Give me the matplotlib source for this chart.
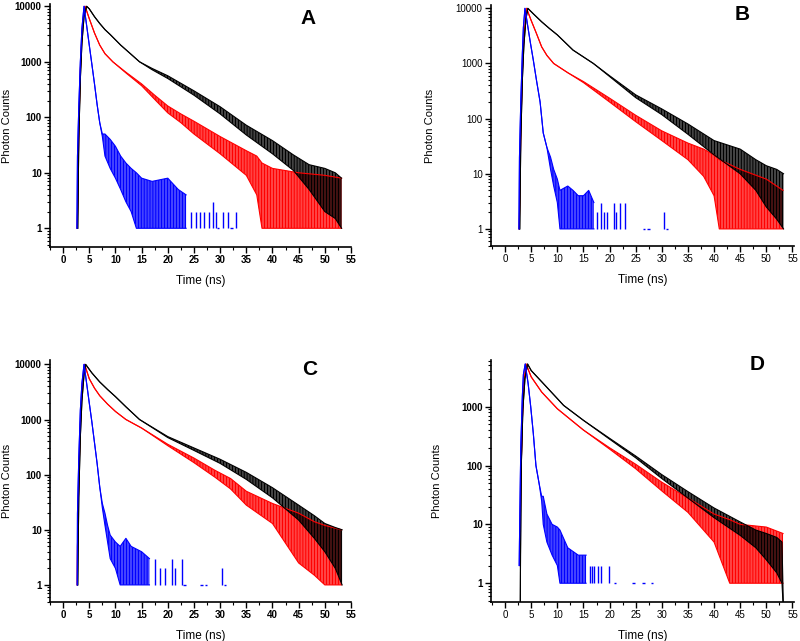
import numpy as np
import matplotlib.pyplot as plt
from matplotlib.ticker import FixedLocator, MultipleLocator, NullFormatter

plt.rcParams['font.family'] = ['Liberation Sans', 'DejaVu Sans']
plt.rcParams['hatch.linewidth'] = 0.9

# ---- values: time (ns), lower / upper edge of the trace (counts)
# panel A
a_blk_t  = [2.8, 3.0, 3.3, 3.6, 4.0, 4.5, 5.0, 6.0, 7, 8, 9, 11, 12.5, 14.6, 17, 20, 25, 30, 35, 40, 44, 47, 50, 52, 53.2]
a_blk_lo = [1, 40, 500, 2200, 6500, 10000, 9000, 6500, 4900, 3800, 3100, 2000, 1500, 1000, 720, 500, 250, 115, 48, 22, 11, 5, 2, 1.5, 1]
a_blk_hi = [1, 40, 500, 2200, 6500, 10000, 9000, 6500, 4900, 3800, 3100, 2000, 1500, 1000, 760, 560, 300, 155, 72, 38, 21, 14, 12, 10, 8]
a_red_t  = [2.7, 2.8, 3.0, 3.3, 3.6, 4.0, 4.2, 5, 6, 7, 8, 9.5, 12, 15, 17.5, 20, 22.5, 25, 30, 35, 37, 38, 40, 45, 50, 53.2]
a_red_lo = [1, 3, 60, 700, 3000, 8500, 10000, 6000, 3300, 2000, 1400, 1000, 630, 370, 210, 120, 80, 50, 22, 9, 4, 1, 1, 1, 1, 1]
a_red_hi = [1, 3, 60, 700, 3000, 8500, 10000, 6000, 3300, 2000, 1400, 1000, 650, 400, 250, 160, 115, 85, 45, 25, 20, 15, 12, 10, 9, 8]
a_blu_t  = [2.65, 2.75, 3.0, 3.3, 3.6, 4.0, 4.5, 5, 5.5, 6, 6.5, 7, 7.5, 8, 9, 10, 11, 12, 13, 14, 15, 17, 20, 22, 23.5]
a_blu_lo = [1, 20, 150, 1000, 4000, 10000, 4500, 2000, 900, 400, 170, 80, 45, 20, 12, 8, 5, 3, 2, 1, 1, 1, 1, 1, 1]
a_blu_hi = [1, 20, 150, 1000, 4000, 10000, 4500, 2000, 900, 400, 170, 80, 50, 50, 40, 30, 20, 15, 12, 10, 8, 7, 8, 5, 4]
a_spk_t  = [24.5, 25.4, 26.2, 27.0, 27.8, 28.6, 29.3, 30.5, 31.5, 33.0]
a_spk_v  = [2, 2, 2, 2, 2, 3, 2, 2, 2, 2]
a_dash_t = [29.6, 32.2]

# panel B
b_blk_t  = [2.8, 3.0, 3.3, 3.6, 4.0, 4.35, 5.5, 7, 8.5, 10, 13, 16.9, 20, 25, 30, 35, 40, 45, 48, 50, 52, 53.3]
b_blk_lo = [1, 40, 500, 2200, 6500, 10000, 7800, 5700, 4300, 3300, 1750, 1000, 580, 240, 118, 52, 22, 10, 5, 2.5, 1.5, 1]
b_blk_hi = [1, 40, 500, 2200, 6500, 10000, 7800, 5700, 4300, 3300, 1750, 1000, 600, 270, 150, 80, 40, 28, 18, 14, 12, 10]
b_red_t  = [2.7, 2.8, 3.0, 3.3, 3.6, 4.1, 5, 6, 7, 8, 9.3, 12, 15, 20, 25, 30, 35, 38, 40, 41, 45, 50, 53.2]
b_red_lo = [1, 3, 60, 700, 3000, 10000, 6000, 3500, 2000, 1400, 1000, 680, 450, 200, 88, 40, 18, 9, 4, 1, 1, 1, 1]
b_red_hi = [1, 3, 60, 700, 3000, 10000, 6000, 3500, 2000, 1400, 1000, 680, 470, 235, 115, 60, 36, 28, 22, 18, 12, 8, 5]
b_blu_t  = [2.65, 2.75, 3.0, 3.3, 3.5, 3.8, 4.3, 4.8, 5.4, 6, 6.7, 7.3, 8, 8.7, 9.3, 10, 10.5, 12, 13, 14, 15, 16, 17]
b_blu_lo = [1, 20, 200, 1500, 4500, 10000, 5000, 2500, 1150, 500, 200, 55, 30, 12, 6, 3, 1, 1, 1, 1, 1, 1, 1]
b_blu_hi = [1, 20, 200, 1500, 4500, 10000, 5000, 2500, 1150, 500, 200, 55, 30, 20, 12, 8, 5, 6, 5, 4, 4, 5, 3]
b_spk_t  = [17.6, 18.3, 19.0, 19.6, 20.8, 21.3, 22.0, 23.0, 30.4]
b_spk_v  = [2, 3, 2, 2, 3, 2, 3, 3, 2]
b_dash_t = [26.6, 27.4, 31.0]

# panel C
c_blk_t  = [2.8, 3.0, 3.3, 3.6, 4.0, 4.3, 5.5, 7, 8.5, 10, 12, 14.6, 20, 25, 30, 35, 40, 45, 48, 50, 52, 53.3]
c_blk_lo = [1, 40, 500, 2200, 6500, 10000, 7000, 4800, 3500, 2600, 1700, 1000, 470, 275, 160, 82, 38, 15, 7, 4, 2, 1]
c_blk_hi = [1, 40, 500, 2200, 6500, 10000, 7000, 4800, 3500, 2600, 1700, 1000, 490, 305, 190, 110, 58, 28, 18, 13, 11, 10]
c_red_t  = [2.7, 2.75, 3.0, 3.3, 3.6, 4.1, 5, 6, 7, 8.5, 10, 12, 15, 20, 25, 29, 32, 35, 40, 45, 48, 50, 53.2]
c_red_lo = [1, 5, 80, 800, 3200, 10000, 5500, 3700, 2700, 1900, 1400, 1000, 700, 335, 165, 90, 55, 28, 13, 2.5, 1.5, 1, 1]
c_red_hi = [1, 5, 80, 800, 3200, 10000, 5500, 3700, 2700, 1900, 1400, 1000, 700, 355, 200, 120, 85, 50, 30, 20, 14, 12, 10]
c_blu_t  = [2.7, 2.75, 3.0, 3.3, 3.6, 4.0, 4.5, 5, 5.5, 6, 6.5, 7, 7.5, 8, 8.5, 9, 10, 10.9, 12, 13, 15, 16.5]
c_blu_lo = [1, 20, 200, 1500, 4500, 10000, 4500, 2000, 900, 380, 160, 60, 25, 12, 6, 3, 2, 1, 1, 1, 1, 1]
c_blu_hi = [1, 20, 200, 1500, 4500, 10000, 4500, 2000, 900, 380, 160, 60, 30, 20, 12, 8, 6, 5, 7, 5, 4, 3]
c_spk_t  = [17.5, 18.5, 19.5, 20.8, 21.4, 22.8, 30.4]
c_spk_v  = [3, 2, 2, 3, 2, 3, 2]
c_dash_t = [23.2, 26.4, 27.3, 30.9]

# panel D
d_blk_t  = [2.9, 2.95, 3.1, 3.4, 3.8, 4.3, 5, 7, 10, 11.2, 15, 20, 25, 30, 35, 40, 45, 48, 50, 52, 53, 53.3]
d_blk_lo = [0.3, 3, 100, 900, 3000, 5300, 4100, 2650, 1370, 1050, 585, 280, 135, 60, 28, 13, 6.5, 4, 2.5, 1.5, 1, 0.3]
d_blk_hi = [0.3, 3, 100, 900, 3000, 5300, 4100, 2650, 1370, 1050, 585, 290, 145, 70, 36, 19, 11, 8, 7, 6, 5, 0.3]
d_red_t  = [2.8, 2.85, 3.0, 3.3, 3.6, 4.0, 5, 7, 10, 15, 20, 25, 30, 35, 40, 43, 45, 50, 53.2]
d_red_lo = [2, 3, 50, 600, 2500, 5300, 3200, 1770, 920, 400, 190, 88, 37, 16, 5, 1, 1, 1, 1]
d_red_hi = [2, 3, 50, 600, 2500, 5300, 3200, 1770, 920, 400, 200, 105, 52, 28, 15, 12, 10, 9, 7]
d_blu_t  = [2.7, 2.75, 3.0, 3.3, 3.5, 3.85, 4.4, 4.9, 5.4, 5.9, 6.5, 7.0, 7.3, 8, 9, 10, 10.5, 12, 14, 15.5]
d_blu_lo = [2, 5, 200, 1500, 3500, 5300, 2500, 1000, 350, 100, 50, 25, 10, 5, 3, 2, 1, 1, 1, 1]
d_blu_hi = [2, 5, 200, 1500, 3500, 5300, 2500, 1000, 350, 100, 50, 30, 30, 15, 10, 9, 8, 4, 3, 3]
d_spk_t  = [16.2, 16.6, 17.0, 17.7, 18.4, 19.8]
d_spk_v  = [2, 2, 2, 2, 2, 2]
d_dash_t = [21.0, 24.6, 26.5, 28.1]

x_ticks = list(range(0, 60, 5))
y_ticks_full = [1, 10, 100, 1000, 10000]
y_ticks_d = [1, 10, 100, 1000]

W, H = 800, 641

def px_box(left, right, top, bottom):
    return [left / W, 1 - bottom / H, (right - left) / W, (bottom - top) / H]

panels = [
    # letter, box, xlim, ylim, yticks, bold ticks, ylabel x, letter pos, curves, spikes
    ('A', px_box(50, 351, 4, 247), (-2.5, 55), (0.46, 11000), y_ticks_full, True, -0.127, (308, 18),
     [(a_red_t, a_red_lo, a_red_hi, 'red'), (a_blk_t, a_blk_lo, a_blk_hi, 'black'), (a_blu_t, a_blu_lo, a_blu_hi, 'blue')],
     (a_spk_t, a_spk_v, a_dash_t)),
    ('B', px_box(491, 794, 5, 246), (-2.7, 55.3), (0.49, 11500), y_ticks_full, False, -0.185, (742, 14),
     [(b_red_t, b_red_lo, b_red_hi, 'red'), (b_blk_t, b_blk_lo, b_blk_hi, 'black'), (b_blu_t, b_blu_lo, b_blu_hi, 'blue')],
     (b_spk_t, b_spk_v, b_dash_t)),
    ('C', px_box(50, 351, 360, 602), (-2.5, 55), (0.49, 12000), y_ticks_full, True, -0.127, (310, 370),
     [(c_red_t, c_red_lo, c_red_hi, 'red'), (c_blk_t, c_blk_lo, c_blk_hi, 'black'), (c_blu_t, c_blu_lo, c_blu_hi, 'blue')],
     (c_spk_t, c_spk_v, c_dash_t)),
    ('D', px_box(491, 794, 360, 602), (-2.7, 55.3), (0.48, 6200), y_ticks_d, False, -0.162, (757, 365),
     [(d_red_t, d_red_lo, d_red_hi, 'red'), (d_blk_t, d_blk_lo, d_blk_hi, 'black'), (d_blu_t, d_blu_lo, d_blu_hi, 'blue')],
     (d_spk_t, d_spk_v, d_dash_t)),
]

fig = plt.figure(figsize=(8, 6.41), dpi=100)

for letter, box, xl, yl, yt, bold, ylx, lpos, curves, spikes in panels:
    ax = fig.add_axes(box)
    ax.set_yscale('log')
    for t, lo, hi, col in curves:
        # noisy part drawn as dense vertical strokes between the two edges
        ax.fill_between(t, lo, hi, facecolor='none', edgecolor=col, hatch='|' * 11, lw=0)
        ax.plot(t, lo, color=col, lw=0.8)
        ax.plot(t, hi, color=col, lw=0.8)
    st, sv, dt = spikes
    ax.vlines(st, 1, sv, color='blue', lw=1)
    ax.hlines([1] * len(dt), np.array(dt) - 0.25, np.array(dt) + 0.25, color='blue', lw=1)

    ax.set_xlim(*xl)
    ax.set_ylim(*yl)
    for s in ['top', 'right']:
        ax.spines[s].set_visible(False)
    for s in ['left', 'bottom']:
        ax.spines[s].set_linewidth(1.2)

    fw = 'bold' if bold else 'normal'
    ax.xaxis.set_major_locator(FixedLocator(x_ticks))
    ax.xaxis.set_minor_locator(MultipleLocator(2.5))
    ax.set_xticklabels([str(v) for v in x_ticks], fontsize=7, fontweight=fw)
    ax.yaxis.set_major_locator(FixedLocator(yt))
    ax.yaxis.set_minor_locator(FixedLocator([m * 10 ** e for e in range(-1, 4) for m in range(2, 10)]))
    ax.yaxis.set_minor_formatter(NullFormatter())
    ax.set_yticklabels([str(v) for v in yt], fontsize=7, fontweight='bold' if letter != 'B' else 'normal')
    ax.tick_params(which='major', direction='out', length=4, width=1, pad=2)
    ax.tick_params(which='minor', direction='out', length=2, width=0.8)

    ax.set_xlabel('Time (ns)', fontsize=8.5)
    ax.xaxis.set_label_coords(0.5, -0.115)
    ax.set_ylabel('Photon Counts', fontsize=8)
    ax.yaxis.set_label_coords(ylx, 0.5)

    fig.text(lpos[0] / W, 1 - lpos[1] / H, letter, fontsize=15, fontweight='bold',
             ha='center', va='center')

fig.savefig('out.png', dpi=100)
